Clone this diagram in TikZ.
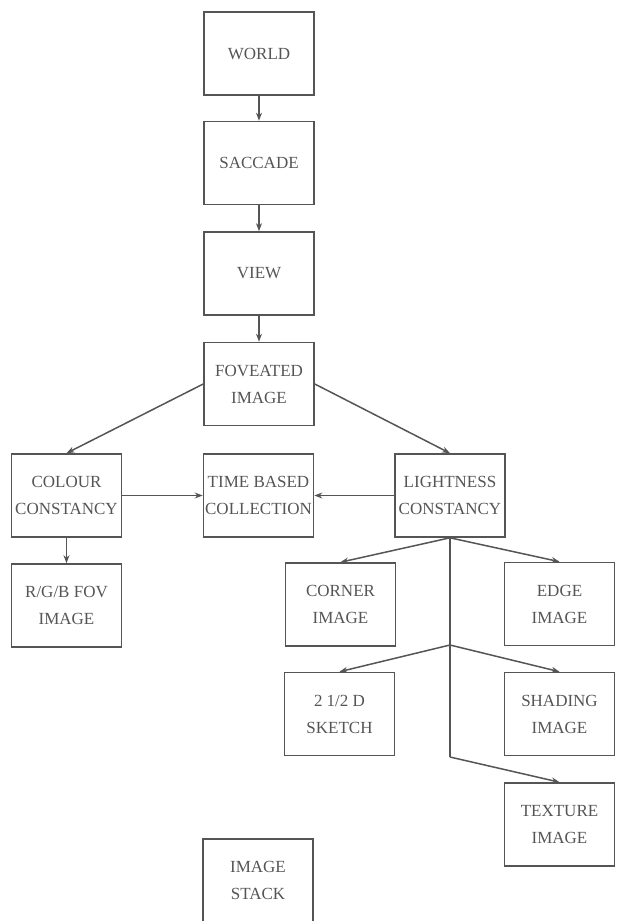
\documentclass[tikz,border=0pt]{standalone}
\usepackage{fontspec}
\setmainfont{Liberation Serif}
\usepackage{xcolor}
\usetikzlibrary{arrows.meta}
\definecolor{inkgray}{HTML}{555555}

\begin{document}
\begin{tikzpicture}[x=1pt,y=-1pt,
		stage/.style={draw=inkgray,line width=1.6pt,minimum width=110pt,minimum height=83pt,inner sep=1pt,align=center,text=inkgray,font=\fontsize{17}{27}\selectfont},
		flow/.style={draw=inkgray,line width=1.5pt,-{Stealth[length=8pt,width=6pt]}},
		trunk/.style={draw=inkgray,line width=1.3pt}]
			\clip (0,0) rectangle (617,921);
			\node[stage] (world) at (259,53.5) {WORLD};
			\node[stage] (saccade) at (259,163) {SACCADE};
			\node[stage] (view) at (259,273.5) {VIEW};
			\node[stage] (foveated) at (259,384) {FOVEATED\\IMAGE};
			\node[stage] (colour) at (66.5,495.5) {COLOUR\\CONSTANCY};
			\node[stage] (timebased) at (258.5,495.5) {TIME BASED\\COLLECTION};
			\node[stage] (lightness) at (450,495.5) {LIGHTNESS\\CONSTANCY};
			\node[stage] (rgbfov) at (66.5,605.5) {R/G/B FOV\\IMAGE};
			\node[stage] (corner) at (340.5,604.5) {CORNER\\IMAGE};
			\node[stage] (edge) at (559.5,604) {EDGE\\IMAGE};
			\node[stage] (sketch) at (339.5,714) {2 1/2 D\\SKETCH};
			\node[stage] (shading) at (559.5,714) {SHADING\\IMAGE};
			\node[stage] (texture) at (559.5,824.5) {TEXTURE\\IMAGE};
			\node[stage] (stack) at (258,880.5) {IMAGE\\STACK};
			\coordinate (fork) at (450,645);
			\coordinate (bend) at (450,757);
			\draw[flow] (world) -- (saccade);
			\draw[flow] (saccade) -- (view);
			\draw[flow] (view) -- (foveated);
			\draw[flow] (foveated.west) -- (colour.north);
			\draw[flow] (foveated.east) -- (lightness.north);
			\draw[flow] (colour.east) -- (timebased.west);
			\draw[flow] (lightness.west) -- (timebased.east);
			\draw[flow] (colour) -- (rgbfov);
			\draw[flow] (lightness.south) -- (corner.north);
			\draw[flow] (lightness.south) -- (edge.north);
			\draw[trunk] (lightness.south) -- (bend);
			\draw[flow] (bend) -- (texture.north);
			\draw[flow] (fork) -- (sketch.north);
			\draw[flow] (fork) -- (shading.north);
		\end{tikzpicture}
\end{document}
